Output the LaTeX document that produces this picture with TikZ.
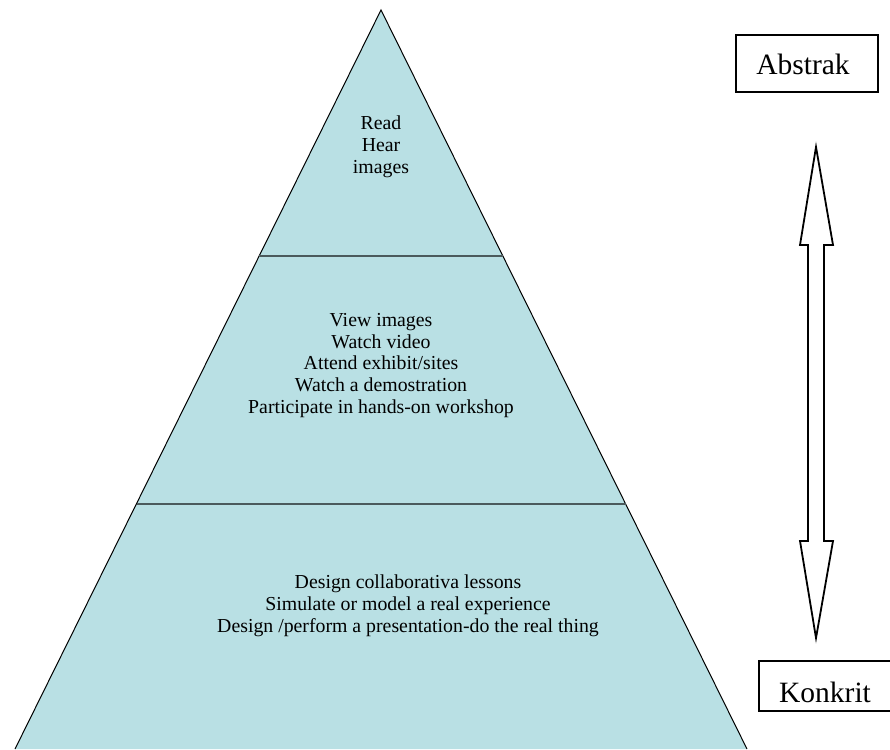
\documentclass[tikz,border=0pt]{standalone}
\usepackage{fontspec}
\setmainfont{Liberation Serif}
\definecolor{pyrfill}{RGB}{185,224,228}
\definecolor{sepline}{RGB}{75,90,92}
\begin{document}
\begin{tikzpicture}[x=1pt,y=-1pt,
  pyrtext/.style={align=center,inner sep=0pt,anchor=base,font=\fontsize{19.8}{21.6}\selectfont},
  labelbox/.style={draw,line width=1.6pt,inner sep=0pt},
  labeltext/.style={inner sep=0pt,anchor=base,font=\fontsize{29.5}{33}\selectfont}]
\useasboundingbox (0,0) rectangle (890,749);
% pyramid
\coordinate (apex) at (381,10);
\coordinate (bl) at (15,749);
\coordinate (br) at (747,749);
\fill[pyrfill] (apex) -- (bl) -- (br) -- cycle;
\draw[line width=1pt] (bl) -- (apex) -- (br);
\coordinate (s1l) at (259,256);
\coordinate (s1r) at (503,256);
\coordinate (s2l) at (136.5,504);
\coordinate (s2r) at (625.5,504);
\draw[sepline,line width=2.4pt] (s1l) -- (s1r);
\draw[sepline,line width=2.4pt] (s2l) -- (s2r);
% texts (anchor = baseline of last line)
\node[pyrtext] (t1) at (381,173) {Read\\Hear\\images};
\node[pyrtext] (t2) at (381,413) {View images\\Watch video\\Attend exhibit/sites\\Watch a demostration\\Participate in hands-on workshop};
\node[pyrtext] (t3) at (408,632) {Design collaborativa lessons\\Simulate or model a real experience\\Design /perform a presentation-do the real thing};
% label boxes
\draw[labelbox] (736,35) rectangle (878,92);
\node[labeltext] (abs) at (803,75) {Abstrak};
\draw[labelbox] (759,661) rectangle (892,711);
\node[labeltext] (kon) at (825,702) {Konkrit};
% double arrow
\draw[line width=1.8pt,fill=white,line join=miter]
  (816,147) -- (833,245) -- (824,245) -- (824,541) -- (833,541) -- (816,638)
  -- (800,541) -- (808,541) -- (808,245) -- (800,245) -- cycle;
\end{tikzpicture}
\end{document}
